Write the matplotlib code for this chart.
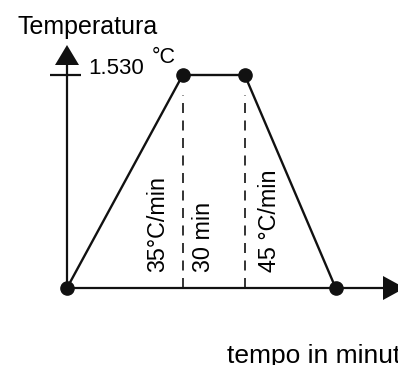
import matplotlib.pyplot as plt

plt.rcParams["font.family"] = ["Liberation Sans", "DejaVu Sans"]

# Heat-treatment cycle: heat up, hold, cool down
times = [0, 56, 86, 130]          # minutes
temps = [0, 1530, 1530, 0]        # degrees C
hold_bounds = [56, 86]            # start / end of the 30 min hold
peak_label = "1.530"
segment_labels = ["35°C/min", "30 min", "45 °C/min"]

W, H = 398, 365
X0, Y0 = 67, 288                  # pixel position of the origin
PX_PER_MIN = 62 / 30
PX_PER_DEG = 213 / 1530
INK = "#111111"

fig = plt.figure(figsize=(W / 100, H / 100), dpi=100)
ax = fig.add_axes([0, 0, 1, 1])
ax.set_xlim(-X0 / PX_PER_MIN, (W - X0) / PX_PER_MIN)
ax.set_ylim(-(H - Y0) / PX_PER_DEG, Y0 / PX_PER_DEG)
ax.axis("off")


def fx(px):
    return px / W


def fy(py):
    return 1 - py / H


# axes with arrow heads
y_tip = (Y0 - 45) / PX_PER_DEG
y_base = (Y0 - 65) / PX_PER_DEG
x_tip = (405 - X0) / PX_PER_MIN
x_base = (383 - X0) / PX_PER_MIN
hw_x = 12 / PX_PER_MIN
hw_y = 12 / PX_PER_DEG
ax.plot([0, 0], [0, y_base], color=INK, lw=1.6, solid_capstyle="butt")
ax.fill([-hw_x, hw_x, 0], [y_base, y_base, y_tip], color=INK, lw=0)
ax.plot([0, x_base], [0, 0], color=INK, lw=1.6, solid_capstyle="butt")
ax.fill([x_base, x_base, x_tip], [-hw_y, hw_y, 0], color=INK, lw=0)

# tick at the peak temperature
ax.plot([-17 / PX_PER_MIN, 14 / PX_PER_MIN], [temps[1], temps[1]],
        color=INK, lw=1.6, solid_capstyle="butt")

# dashed guides at hold start / end
dash_top = (Y0 - 95) / PX_PER_DEG
for t in hold_bounds:
    ax.plot([t, t], [0, dash_top], color=INK, lw=1.2,
            linestyle=(0, (6, 4.5)))

# cycle profile
ax.plot(times, temps, color=INK, lw=1.7, marker="o", markersize=9.5,
        markerfacecolor=INK, markeredgecolor=INK, zorder=3)

fig.text(fx(17), fy(34), "Temperatura", fontsize=18, ha="left", va="baseline")
fig.text(fx(88), fy(74), peak_label, fontsize=16, ha="left", va="baseline")
fig.text(fx(152), fy(63), "°C", fontsize=15.5, ha="left", va="baseline")

for cx, label in zip([157.5, 204, 270], segment_labels):
    fig.text(fx(cx), fy(272), label, fontsize=16.8, rotation=90,
             ha="center", va="bottom")

fig.text(fx(227), fy(363), "tempo in minuti", fontsize=19, ha="left",
         va="baseline")

fig.savefig("out.png", dpi=100)
